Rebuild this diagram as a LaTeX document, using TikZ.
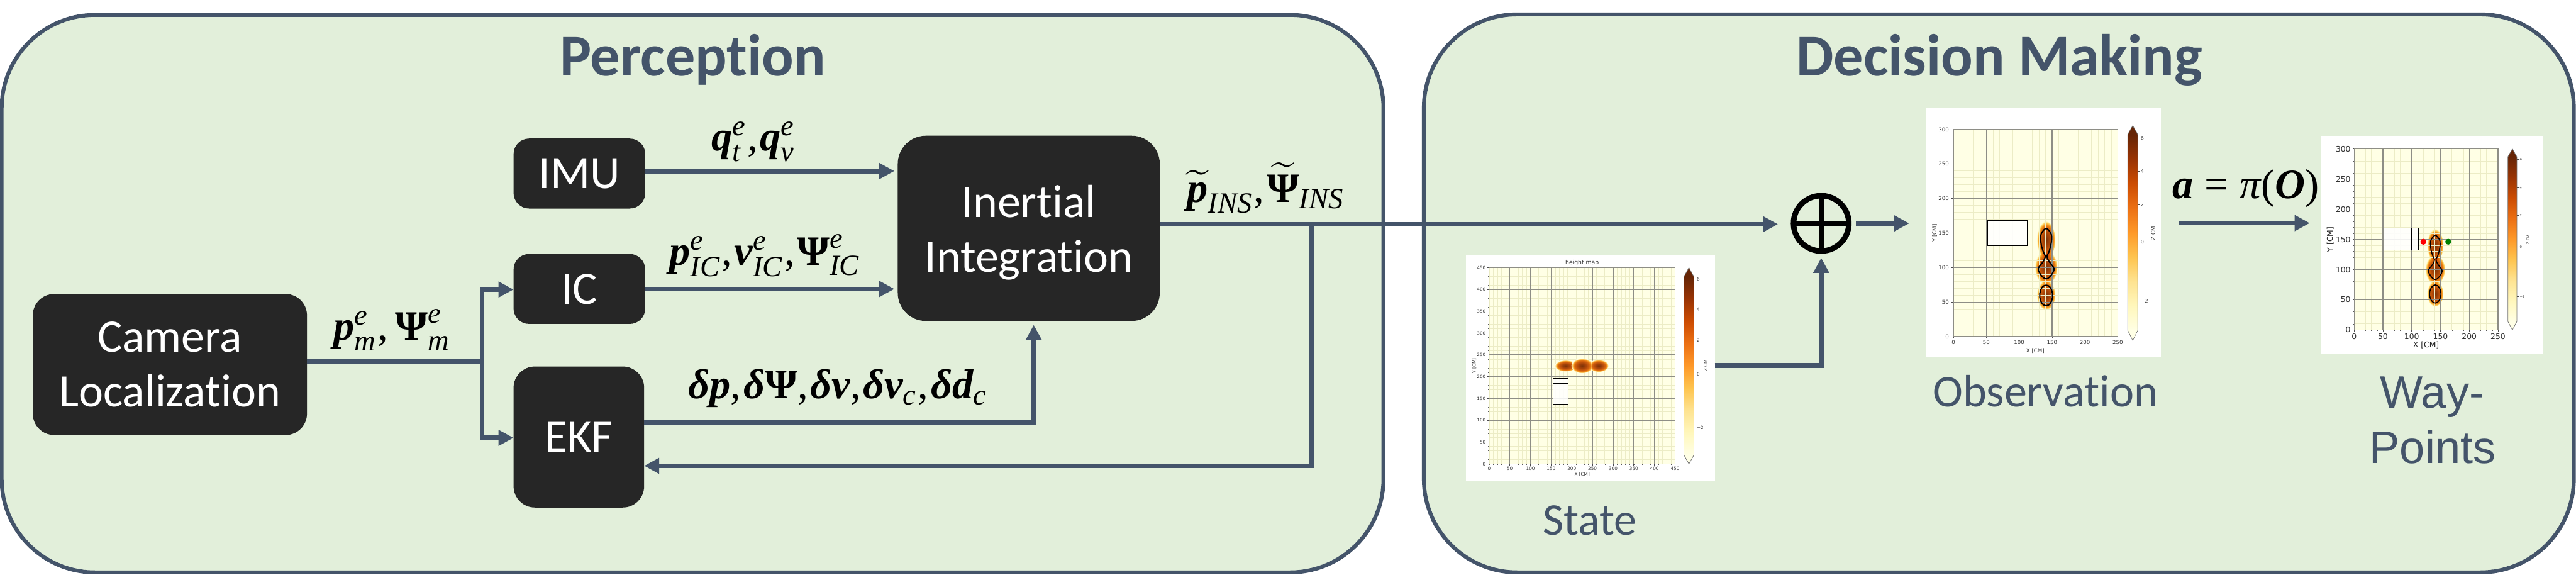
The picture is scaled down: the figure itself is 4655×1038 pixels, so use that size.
\documentclass[tikz,border=0pt]{standalone}
\usepackage{amsmath}
\usepackage{fontspec}
\setmainfont[Ligatures=NoCommon]{Carlito}
\newfontfamily\arialf{Liberation Sans}
\newfontfamily\plotf{DejaVu Sans}
\newfontfamily\mathf{Liberation Serif}
\newcommand{\mb}[1]{\text{\mathf\bfseries\itshape #1}}
\newcommand{\mbu}[1]{\text{\mathf\bfseries #1}}
\newcommand{\mi}[1]{\text{\mathf\itshape #1}}
\newcommand{\mr}[1]{\text{\mathf #1}}
\newcommand{\cm}{\mr{,}\mskip1mu}
\usetikzlibrary{arrows.meta,calc}
\definecolor{panelfill}{HTML}{E2EFDA}
\definecolor{slateblue}{HTML}{44546A}
\definecolor{boxdark}{HTML}{262626}
\definecolor{cA}{HTML}{FFFFE5}\definecolor{cB}{HTML}{FFF7BC}\definecolor{cC}{HTML}{FEE391}
\definecolor{cD}{HTML}{FEC44F}\definecolor{cE}{HTML}{FE9929}\definecolor{cF}{HTML}{EC7014}
\definecolor{cG}{HTML}{CC4C02}\definecolor{cH}{HTML}{993404}\definecolor{cI}{HTML}{662506}
\definecolor{gridmajor}{HTML}{8E8E86}\definecolor{gridminor}{HTML}{ECECC6}
\definecolor{blobA}{HTML}{7A3208}\definecolor{blobB}{HTML}{A8440A}\definecolor{blobC}{HTML}{D8640E}
\definecolor{blobD}{HTML}{F2921E}\definecolor{blobE}{HTML}{FDCB60}
\pgfdeclareverticalshading{ylorbr}{100bp}{color(0bp)=(cA); color(25bp)=(cA); color(31.25bp)=(cB); color(37.5bp)=(cC); color(43.75bp)=(cD); color(50bp)=(cE); color(56.25bp)=(cF); color(62.5bp)=(cG); color(68.75bp)=(cH); color(75bp)=(cI); color(100bp)=(cI)}
\pgfdeclareradialshading{blob}{\pgfpoint{0bp}{0bp}}{color(0bp)=(blobA); color(9bp)=(blobB); color(17bp)=(blobC); color(20.5bp)=(blobD); color(22.8bp)=(blobE); color(25bp)=(cA); color(50bp)=(cA)}
\newcommand{\mpl}[1]{\plotf\fontsize{#1}{#1}\selectfont}
\newcommand{\plotbg}[2]{\fill[cA] (0,0) rectangle (#1,#2);}
\newcommand{\plotgrid}[5]{%
  \pgfmathsetmacro{\axs}{abs(\xs)}\pgfmathsetmacro{\ays}{abs(\ys)}%
  \foreach \v in {0,10,...,#1}{\draw[gridminor,line width=.45pt] (\v,0) -- (\v,#2);\draw[black!65,line width=.35pt] (\v,0) -- (\v,-1.6/\ays);}
  \foreach \v in {0,10,...,#2}{\draw[gridminor,line width=.45pt] (0,\v) -- (#1,\v);\draw[black!65,line width=.35pt] (0,\v) -- (-1.6/\axs,\v);}
  \foreach \v in {0,50,...,#1}{\draw[gridmajor,line width=.8pt] (\v,0) -- (\v,#2);\draw[black!70,line width=.5pt] (\v,0) -- (\v,-3/\ays);
    \node[inner sep=0pt,text=black!80,font=\mpl{#3}] at (\v,-#4/\ays) {\v};}
  \foreach \v in {0,50,...,#2}{\draw[gridmajor,line width=.8pt] (0,\v) -- (#1,\v);\draw[black!70,line width=.5pt] (0,\v) -- (-3/\axs,\v);
    \node[inner sep=0pt,anchor=east,text=black!80,font=\mpl{#3}] at (-#5/\axs,\v) {\v};}
  \draw[gridmajor,line width=.7pt] (0,0) rectangle (#1,#2);
}
\newcommand{\cbar}[8]{%
  \path[shading=ylorbr] (#1,#4) rectangle (#2,#5);
  \fill[cI] (#1,#4) -- ({(#1+#2)/2},#3) -- (#2,#4) -- cycle;
  \fill[cA] (#1,#5) -- ({(#1+#2)/2},#6) -- (#2,#5) -- cycle;
  \draw[black!55,line width=.5pt,line join=round] (#1,#4) -- ({(#1+#2)/2},#3) -- (#2,#4) -- (#2,#5) -- ({(#1+#2)/2},#6) -- (#1,#5) -- cycle;
  \foreach \lab/\yy in {#8}{\draw[black!70,line width=.4pt] (#2,\yy) -- ++(3,0);
    \node[inner sep=0pt,anchor=west,text=black!80,font=\mpl{#7}] at ({#2+5},\yy) {\lab};}
}
\newcommand{\bumps}{%
  \path[shading=blob,blend mode=multiply] (141,140) ellipse [x radius=14,y radius=27];
  \path[shading=blob,blend mode=multiply] (141,100) ellipse [x radius=17,y radius=24];
  \path[shading=blob,blend mode=multiply] (141,60) ellipse [x radius=14,y radius=21];
}
\newcommand{\contours}[1]{%
  \draw[black,line width=#1] plot[smooth cycle,tension=.6] coordinates {(141,156.7) (148,150) (149.5,142.8) (148,132) (145,122) (142.2,116) (146,108) (152.8,98.7) (149,89.4) (141,83.5) (133,89.4) (129.2,98.7) (136,108) (139.8,116) (137,122) (133.8,132) (132.6,142.8) (134,150)};
  \draw[black,line width=#1] (141,59.6) ellipse [x radius=9.8,y radius=15];
  \filldraw[fill=white,fill opacity=.88,draw=black,line width=.85pt] (51.4,132) rectangle (112,168.5);
  \draw[black,line width=.85pt] (100,132) -- (100,168.5);
}
\tikzset{
  panel/.style={draw=slateblue,fill=panelfill,line width=4pt,rounded corners=96pt},
  dbox/.style={fill=boxdark,text=white,rounded corners=#1,inner sep=0pt,outer sep=0pt,align=center,
     font=\fontsize{47.8}{56.3}\selectfont},
  title/.style={text=slateblue,inner sep=0pt,anchor=base,font=\fontsize{61}{61}\selectfont\bfseries},
  caption/.style={text=slateblue,inner sep=0pt,anchor=base,font=\fontsize{46.7}{46.7}\selectfont},
  mlabel/.style={inner sep=0pt,anchor=base,text=black,scale=4.3},
  flow/.style={draw=slateblue,line width=4.9pt,line join=miter},
  arr/.style={flow,-{Triangle[length=15.5pt,width=15.5pt]}},
  imgbg/.style={fill=white,inner sep=0pt,outer sep=0pt},
}
\begin{document}
\begin{tikzpicture}[x=0.02cm,y=-0.02cm]
\useasboundingbox (0,0) rectangle (4655,1038);
\fill[white] (0,0) rectangle (4655,1038);
\path[panel] (3,27) rectangle (2500,1034);
\path[panel] (2573,26) rectangle (4651,1034);
\node[title] (tperc) at (1252,137) {Perception};
\node[title] (tdec) at (3613,137) {Decision Making};
\node[dbox=22pt,minimum width=282pt,minimum height=145pt] (cam) at (307,658.5) {Camera\\Localization};
\node[dbox=16pt,minimum width=135.4pt,minimum height=72pt] (imu) at (1047,313.5) {IMU};
\node[dbox=16pt,minimum width=135.4pt,minimum height=72pt] (ic) at (1047,522) {IC};
\node[dbox=22pt,minimum width=134.3pt,minimum height=145pt] (ekf) at (1046,789.5) {EKF};
\node[dbox=29pt,minimum width=269.5pt,minimum height=190.5pt] (inert) at (1859,412.5) {Inertial\\\smash[b]{Integration}};
\node[imgbg,minimum width=255.9pt,minimum height=231.6pt] (stateimg) at (2874,664.8) {};
\node[imgbg,minimum width=241.9pt,minimum height=256.7pt] (obsimg) at (3692.5,420.5) {};
\node[imgbg,minimum width=227.7pt,minimum height=224.9pt] (wayimg) at (4395,442.5) {};
% state map
\pgfmathsetmacro{\xs}{336/450}\pgfmathsetmacro{\ys}{-354.5/450}
\begin{scope}[shift={(2691,838)},xscale=\xs,yscale=\ys]
  \plotbg{450}{450}
  \plotgrid{450}{450}{4.7}{9}{6}
  \path[shading=blob] (185,225) ellipse [x radius=26,y radius=13];
  \path[shading=blob] (265,225) ellipse [x radius=24,y radius=14];
  \path[shading=blob] (225,225) ellipse [x radius=26,y radius=17];
  \filldraw[fill=white,fill opacity=.88,draw=black,line width=.8pt] (155,136) rectangle (191.6,196);
  \draw[black,line width=.8pt] (155,185) -- (191.6,185);
\end{scope}
\cbar{3043}{3061}{483.5}{500}{822}{838}{4.7}{6/504,4/559,2/614.5,0/675.6,−2/773}
\node[inner sep=0pt,text=black!85,font=\mpl{6}] (sttitle) at (2859,475) {height map};
\node[inner sep=0pt,text=black!80,font=\mpl{4.7}] (stx) at (2859,857) {X [CM]};
\node[inner sep=0pt,text=black!80,font=\mpl{4.7},rotate=90] (sty) at (2664,661) {Y [CM]};
\node[inner sep=0pt,text=black!80,font=\mpl{4.7},rotate=90] (stz) at (3082,661) {Z CM};
% observation map
\pgfmathsetmacro{\xs}{297/250}\pgfmathsetmacro{\ys}{-374/300}
\begin{scope}[shift={(3530,608)},xscale=\xs,yscale=\ys]
  \plotbg{250}{300}
  \bumps
  \plotgrid{250}{300}{5.6}{11}{8}
  \contours{1.3pt}
\end{scope}
\cbar{3845}{3863}{227}{243}{597}{615}{5.2}{6/249,4/309.5,2/370,0/437,−2/544}
\node[inner sep=0pt,text=black!80,font=\mpl{5.6}] (obx) at (3678,634) {X [CM]};
\node[inner sep=0pt,text=black!80,font=\mpl{5.6},rotate=90] (oby) at (3496,421) {Y [CM]};
\node[inner sep=0pt,text=black!80,font=\mpl{5.6},rotate=90] (obz) at (3891,422) {Z CM};
% way-points map
\pgfmathsetmacro{\xs}{260/250}\pgfmathsetmacro{\ys}{-327/300}
\begin{scope}[shift={(4254,596)},xscale=\xs,yscale=\ys]
  \plotbg{250}{300}
  \bumps
  \plotgrid{250}{300}{8}{12}{6}
  \contours{1.05pt}
\end{scope}
\fill[red] (4379,436.7) circle (5.4);
\fill[green!50!black] (4424,436.7) circle (5.4);
\cbar{4532}{4548}{269}{283}{581}{596}{3.4}{6/288,4/339,2/389,0/446,−2/536}
\node[inner sep=0pt,text=black!85,font=\mpl{8}] (wyx) at (4384,624) {X [CM]};
\node[inner sep=0pt,text=black!85,font=\mpl{8},rotate=90] (wyy) at (4211,433) {Y [CM]};
\node[inner sep=0pt,text=black!80,font=\mpl{3.6},rotate=90] (wyz) at (4568,433) {Z CM};
% captions
\node[caption] (cstate) at (2873,967) {State};
\node[caption] (cobs) at (3696,735) {Observation};
\node[caption,font=\arialf\fontsize{46.7}{46.7}\selectfont] (cway) at (4395,737) {Way-};
\node[caption,font=\arialf\fontsize{46.7}{46.7}\selectfont] (cpts) at (4396,837) {Points};
% sum symbol
\node[circle,draw=black,line width=5.7pt,minimum size=56.9pt,inner sep=0pt,outer sep=0pt] (sum) at (3291,403.5) {};
\draw[black,line width=5.4pt] (sum.north) -- (sum.south);
\draw[black,line width=5.4pt] (sum.west) -- (sum.east);
% connectors
\coordinate (yimu) at (0,309);
\coordinate (yic) at (0,522);
\coordinate (yekf) at (0,763);
\coordinate (xup) at (1868,0);
\coordinate (main) at (0,405);
\coordinate (tap) at (2370,405);
\coordinate (yback) at (0,841.5);
\coordinate (junction) at (871,653);
\coordinate (ybranchic) at (0,523);
\coordinate (ybranchekf) at (0,791);
\coordinate (ystate) at (0,660);
\coordinate (ypolicy) at (0,403);
\draw[arr,shorten >=3.4pt] (imu.east |- yimu) -- (inert.west |- yimu);
\draw[arr,shorten >=3.4pt] (ic.east |- yic) -- (inert.west |- yic);
\draw[arr,shorten >=4pt] (ekf.east |- yekf) -- (xup |- yekf) -- (xup |- inert.south);
\draw[flow] (cam.east |- junction) -- (junction);
\draw[arr] (junction) |- (ic.west |- ybranchic);
\draw[arr] (junction) |- (ekf.west |- ybranchekf);
\draw[arr,shorten >=16pt] (inert.east |- main) -- (sum.west |- main);
\draw[arr] (tap) |- (ekf.east |- yback);
\draw[arr,shorten >=7pt] (stateimg.east |- ystate) -| (sum.south);
\draw[arr,shorten <=7pt,shorten >=17pt] (sum.east) -- (obsimg.west |- sum.east);
\draw[arr,shorten <=19pt,shorten >=12pt] (obsimg.east |- ypolicy) -- (wayimg.west |- ypolicy);
% labels
\node[mlabel] (lm) at (709,614) {$\mb{p}_{\mi{m}}^{\mi{e}}\mr{,}\,\mbu{Ψ}_{\mi{m}}^{\mi{e}}$};
\node[mlabel] (lq) at (1362,272) {$\mb{q}_{\mi{t}}^{\mi{e}}\cm\mb{q}_{\mi{v}}^{\mi{e}}$};
\node[mlabel] (lic) at (1383,479) {$\mb{p}_{\mi{IC}}^{\mi{e}}\cm\mb{v}_{\mi{IC}}^{\mi{e}}\cm\mbu{Ψ}_{\mi{IC}}^{\mi{e}}$};
\node[mlabel] (ld) at (1515,720) {$\mb{δp}\cm\mb{δ}\mbu{Ψ}\cm\mb{δv}\cm\mb{δv}_{\mi{c}}\cm\mb{δd}_{\mi{c}}$};
\node[mlabel] (lins) at (2288,365) {$\widetilde{\mb{p}}_{\mi{INS}}\cm\widetilde{\mbu{Ψ}}_{\mi{INS}}$};
\node[mlabel] (lpi) at (4058,359) {$\mb{a}\mathrel{\mr{=}}\mi{π}\mr{(}\mb{O}\mr{)}$};
\end{tikzpicture}
\end{document}
